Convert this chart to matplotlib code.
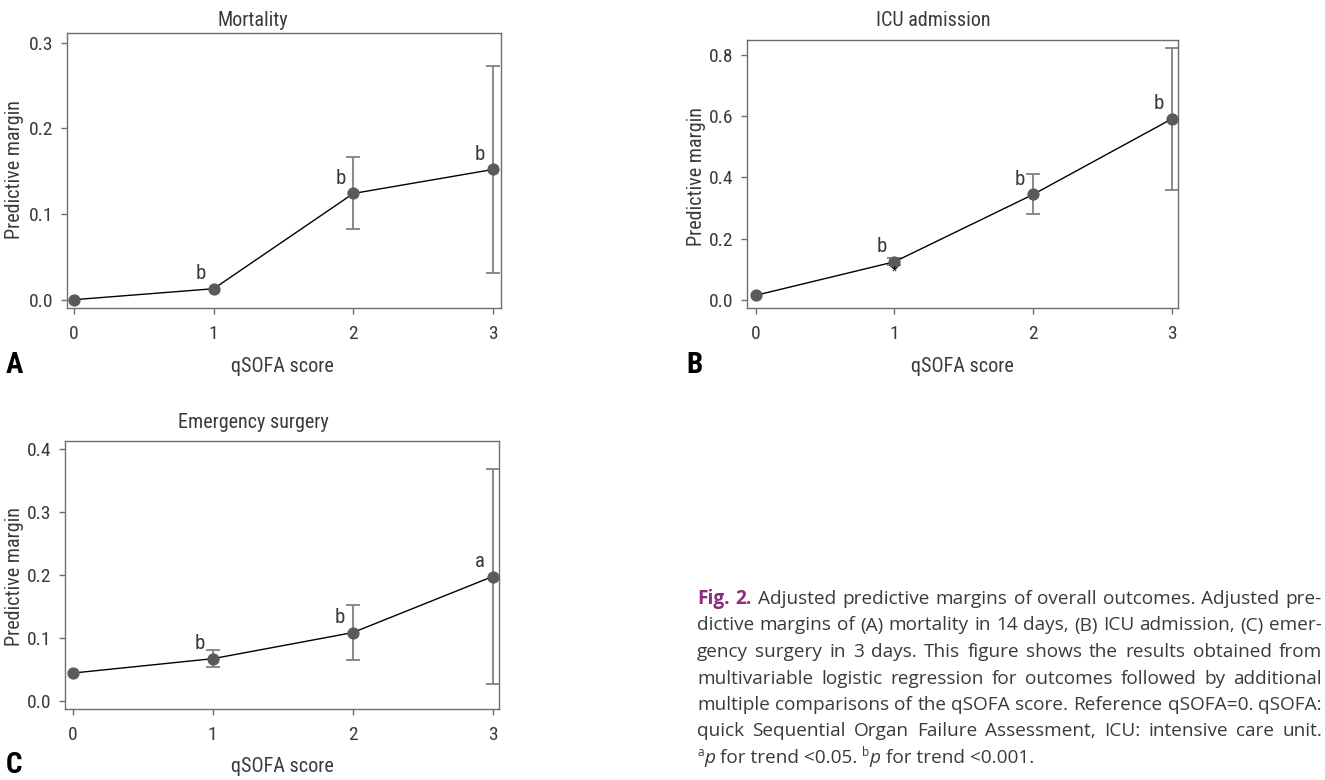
import numpy as np
import matplotlib
matplotlib.use("Agg")
import matplotlib.pyplot as plt
from matplotlib import font_manager as fm
from matplotlib.transforms import IdentityTransform

# ── Data ──────────────────────────────────────────────────────────────────────
scores = [0, 1, 2, 3]
xticks = [0, 1, 2, 3]

mort = [0.0, 0.0128, 0.124, 0.152]
mort_lo = [0.0, 0.0128, 0.082, 0.031]
mort_hi = [0.0, 0.0128, 0.166, 0.273]
mort_marks = ["", "b", "b", "b"]
mort_yticks = [0.0, 0.1, 0.2, 0.3]

icu = [0.0144, 0.124, 0.344, 0.591]
icu_lo = [0.0144, 0.113, 0.279, 0.358]
icu_hi = [0.0144, 0.135, 0.410, 0.824]
icu_marks = ["", "b", "b", "b"]
icu_yticks = [0.0, 0.2, 0.4, 0.6, 0.8]

surg = [0.0438, 0.0666, 0.108, 0.197]
surg_lo = [0.0438, 0.0534, 0.065, 0.0264]
surg_hi = [0.0438, 0.0798, 0.1516, 0.368]
surg_marks = ["", "b", "b", "a"]
surg_yticks = [0.0, 0.1, 0.2, 0.3, 0.4]

caption_lines = [
    "Fig. 2. Adjusted predictive margins of overall outcomes. Adjusted pre-",
    "dictive margins of (A) mortality in 14 days, (B) ICU admission, (C) emer-",
    "gency surgery in 3 days. This figure shows the results obtained from",
    "multivariable logistic regression for outcomes followed by additional",
    "multiple comparisons of the qSOFA score. Reference qSOFA=0. qSOFA:",
    "quick Sequential Organ Failure Assessment, ICU: intensive care unit.",
]

# ── Fonts: use a narrow face for the Stata-style chart text if one exists ─────
installed = fm.fontManager.ttflist
names = {f.name for f in installed}
chart_stretch = "normal"
chart_family = "Roboto" if "Roboto" in names else "DejaVu Sans"
for cand in ["Liberation Sans Narrow", "Roboto Condensed", "Open Sans Condensed",
             "Noto Sans Condensed", "DejaVu Sans Condensed"]:
    if cand in names:
        chart_family = cand
        break
else:
    if any(f.name == "DejaVu Sans" and f.stretch == "condensed" for f in installed):
        chart_family, chart_stretch = "DejaVu Sans", "condensed"
CHART_FONT = [chart_family, "DejaVu Sans"]
CAP_FONT = ["Open Sans", "DejaVu Sans"]

# ── Style ─────────────────────────────────────────────────────────────────────
W, H = 1325, 780
TXT = "#3a3a3a"
SPINE = "#6e6e6e"
MARK = "#5a5a5a"
ERR = "#808080"
PURPLE = "#8a2b7d"
FS = 14.5       # titles / axis labels / letters on points
TICK_FS = 14

plt.rcParams["font.family"] = CHART_FONT
plt.rcParams["font.stretch"] = chart_stretch

fig = plt.figure(figsize=(W / 100, H / 100), dpi=100)


def px_axes(left, top, right, bottom):
    return fig.add_axes([left / W, 1 - bottom / H, (right - left) / W, (bottom - top) / H])


def ftext(x, y, s, **kw):
    return fig.text(x / W, 1 - y / H, s, **kw)


def panel(ax, y, lo, hi, marks, yticks, xlim, ylim):
    y, lo, hi = np.array(y), np.array(lo), np.array(hi)
    has_ci = hi > lo
    xs = np.array(scores)
    ax.errorbar(xs[has_ci], y[has_ci], yerr=[y[has_ci] - lo[has_ci], hi[has_ci] - y[has_ci]],
                fmt="none", ecolor=ERR, elinewidth=1.3, capsize=5.3, capthick=1.3, zorder=2)
    ax.plot(xs, y, color="black", lw=1.0, zorder=3)
    ax.plot(xs, y, "o", ms=7.8, color=MARK, zorder=4)
    for xi, yi, m in zip(xs, y, marks):
        if m:
            ax.annotate(m, (xi, yi), xytext=(-13, 15), textcoords="offset pixels",
                        ha="center", va="center", fontsize=FS + 0.5, color=TXT)
    ax.set_xlim(*xlim)
    ax.set_ylim(*ylim)
    ax.set_xticks(xticks)
    ax.set_yticks(yticks)
    ax.set_yticklabels([f"{v:.1f}" for v in yticks])
    for s in ax.spines.values():
        s.set_color(SPINE)
        s.set_linewidth(1.0)
    ax.tick_params(axis="both", colors=SPINE, labelcolor=TXT, labelsize=TICK_FS, width=1.0)
    ax.tick_params(axis="y", length=4.5, pad=5)
    ax.tick_params(axis="x", length=4, pad=8)


# ── Panel A ───────────────────────────────────────────────────────────────────
ax_a = px_axes(67, 33, 501, 308)
panel(ax_a, mort, mort_lo, mort_hi, mort_marks, mort_yticks, (-0.05, 3.057), (-0.0097, 0.3113))
ftext(253, 21, "Mortality", ha="center", va="center", fontsize=FS, color=TXT)
ftext(282, 367, "qSOFA score", ha="center", va="center", fontsize=FS, color=TXT)
ftext(15, 170, "Predictive margin", ha="center", va="center", rotation=90, fontsize=FS, color=TXT)
ftext(6, 373, "A", ha="left", va="baseline", fontsize=21, fontweight="bold", color="black")

# ── Panel B ───────────────────────────────────────────────────────────────────
ax_b = px_axes(747, 40, 1178, 308)
panel(ax_b, icu, icu_lo, icu_hi, icu_marks, icu_yticks, (-0.063, 3.045), (-0.027, 0.849))
ax_b.annotate("*", (scores[1], icu[1]), xytext=(0, -9), textcoords="offset pixels",
              ha="center", va="center", fontsize=9, color="black", zorder=5)
ftext(933, 21, "ICU admission", ha="center", va="center", fontsize=FS, color=TXT)
ftext(962, 367, "qSOFA score", ha="center", va="center", fontsize=FS, color=TXT)
ftext(697, 177, "Predictive margin", ha="center", va="center", rotation=90, fontsize=FS, color=TXT)
ftext(686, 373, "B", ha="left", va="baseline", fontsize=21, fontweight="bold", color="black")

# ── Panel C ───────────────────────────────────────────────────────────────────
ax_c = px_axes(65, 441, 499, 709)
panel(ax_c, surg, surg_lo, surg_hi, surg_marks, surg_yticks, (-0.055, 3.045), (-0.0132, 0.412))
ftext(253, 422, "Emergency surgery", ha="center", va="center", fontsize=FS, color=TXT)
ftext(282, 767, "qSOFA score", ha="center", va="center", fontsize=FS, color=TXT)
ftext(15, 577, "Predictive margin", ha="center", va="center", rotation=90, fontsize=FS, color=TXT)
ftext(6, 773, "C", ha="left", va="baseline", fontsize=21, fontweight="bold", color="black")

# ── Caption (justified, placed word by word in pixel space) ───────────────────
renderer = fig.canvas.get_renderer()
CAP_L, CAP_R = 697, 1322
BASE0, LEAD = 604, 26.5


def measure(s, **kw):
    t = fig.text(0, 0, s, transform=IdentityTransform(), **kw)
    w = t.get_window_extent(renderer).width
    t.remove()
    return w


def cap_props(word, size):
    if word in ("Fig.", "2."):
        return dict(family=CAP_FONT, stretch="normal", fontsize=size, fontweight="bold", color=PURPLE)
    return dict(family=CAP_FONT, stretch="normal", fontsize=size, color=TXT)


# pick a size so the widest line fits with a normal word gap
size = 13.0
natural = max(measure(line, family=CAP_FONT, stretch="normal", fontsize=size) for line in caption_lines)
size = size * (CAP_R - CAP_L - 4) / natural

for i, line in enumerate(caption_lines):
    words = line.split(" ")
    props = [cap_props(w, size) for w in words]
    widths = [measure(w, **p) for w, p in zip(words, props)]
    gap = (CAP_R - CAP_L - sum(widths)) / (len(words) - 1)
    x = CAP_L
    yb = H - (BASE0 + i * LEAD)
    for w, p, wd in zip(words, props, widths):
        fig.text(x, yb, w, transform=IdentityTransform(), va="baseline", **p)
        x += wd + gap

# last line: superscripts + italic p, left aligned
space = (measure("x x", family=CAP_FONT, stretch="normal", fontsize=size)
         - measure("xx", family=CAP_FONT, stretch="normal", fontsize=size))
runs = [
    ("a", dict(fontsize=size * 0.62), 7, 0.5),
    ("p", dict(fontsize=size, style="italic"), 0, space),
    ("for trend <0.05.", dict(fontsize=size), 0, space),
    ("b", dict(fontsize=size * 0.62), 7, 0.5),
    ("p", dict(fontsize=size, style="italic"), 0, space),
    ("for trend <0.001.", dict(fontsize=size), 0, 0),
]
x = CAP_L
yb = H - (BASE0 + 6 * LEAD)
for s, p, dy, after in runs:
    t = fig.text(x, yb + dy, s, transform=IdentityTransform(), va="baseline",
                 family=CAP_FONT, stretch="normal", color=TXT, **p)
    x += t.get_window_extent(renderer).width + after

fig.savefig("out.png", dpi=100)
